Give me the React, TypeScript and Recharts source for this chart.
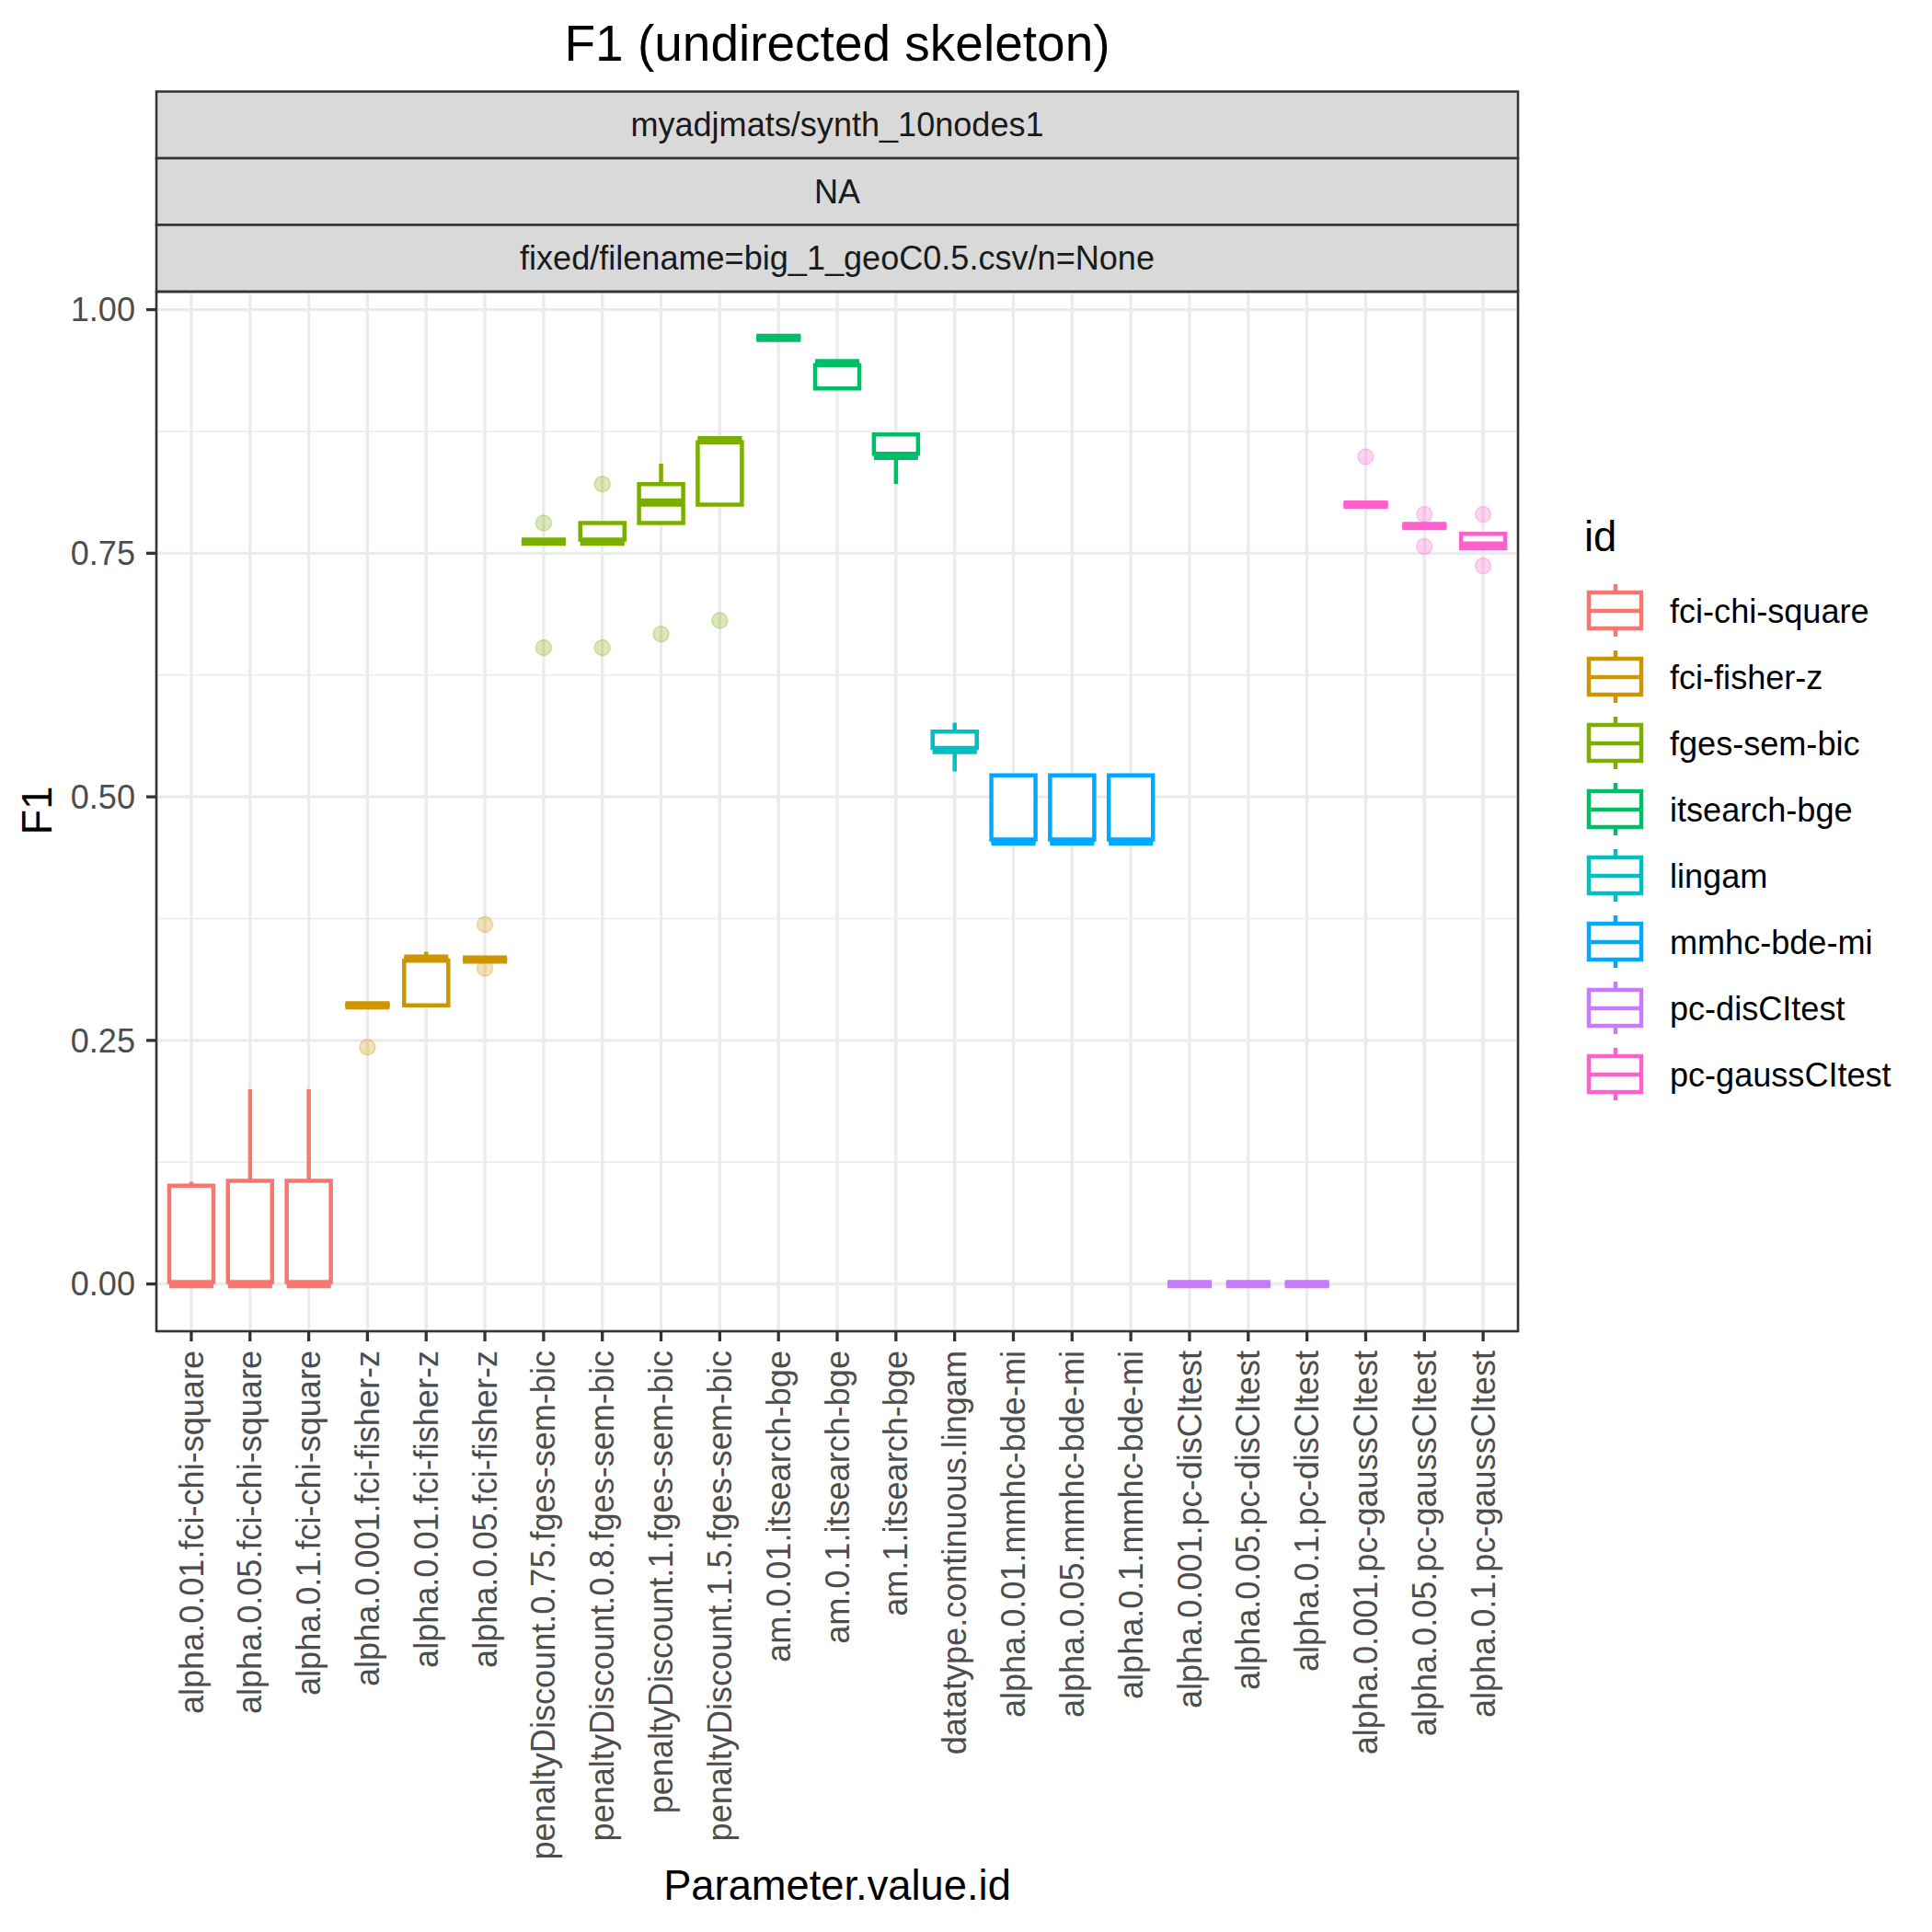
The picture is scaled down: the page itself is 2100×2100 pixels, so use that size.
import { ComposedChart, Bar, Line, XAxis, YAxis, CartesianGrid } from 'recharts';

const FONT = '"Liberation Sans", Arial, Helvetica, sans-serif';

// one box per parameter setting
const categories = [
    'alpha.0.01.fci-chi-square',
    'alpha.0.05.fci-chi-square',
    'alpha.0.1.fci-chi-square',
    'alpha.0.001.fci-fisher-z',
    'alpha.0.01.fci-fisher-z',
    'alpha.0.05.fci-fisher-z',
    'penaltyDiscount.0.75.fges-sem-bic',
    'penaltyDiscount.0.8.fges-sem-bic',
    'penaltyDiscount.1.fges-sem-bic',
    'penaltyDiscount.1.5.fges-sem-bic',
    'am.0.01.itsearch-bge',
    'am.0.1.itsearch-bge',
    'am.1.itsearch-bge',
    'datatype.continuous.lingam',
    'alpha.0.01.mmhc-bde-mi',
    'alpha.0.05.mmhc-bde-mi',
    'alpha.0.1.mmhc-bde-mi',
    'alpha.0.001.pc-disCItest',
    'alpha.0.05.pc-disCItest',
    'alpha.0.1.pc-disCItest',
    'alpha.0.001.pc-gaussCItest',
    'alpha.0.05.pc-gaussCItest',
    'alpha.0.1.pc-gaussCItest',
];

const categoryIds = [
    'fci-chi-square', 'fci-chi-square', 'fci-chi-square',
    'fci-fisher-z', 'fci-fisher-z', 'fci-fisher-z',
    'fges-sem-bic', 'fges-sem-bic', 'fges-sem-bic', 'fges-sem-bic',
    'itsearch-bge', 'itsearch-bge', 'itsearch-bge',
    'lingam',
    'mmhc-bde-mi', 'mmhc-bde-mi', 'mmhc-bde-mi',
    'pc-disCItest', 'pc-disCItest', 'pc-disCItest',
    'pc-gaussCItest', 'pc-gaussCItest', 'pc-gaussCItest',
];

const whiskerLow = [0, 0, 0, 0.286, 0.286, 0.333, 0.762, 0.762, 0.781, 0.8, 0.971, 0.919, 0.821, 0.526, 0.454, 0.454, 0.454, 0, 0, 0, 0.8, 0.778, 0.755];
const lowerQuartile = [0, 0, 0, 0.286, 0.286, 0.333, 0.762, 0.762, 0.781, 0.8, 0.971, 0.919, 0.85, 0.548, 0.454, 0.454, 0.454, 0, 0, 0, 0.8, 0.778, 0.755];
const medianValue = [0, 0, 0, 0.286, 0.334, 0.333, 0.762, 0.762, 0.802, 0.866, 0.971, 0.945, 0.85, 0.548, 0.454, 0.454, 0.454, 0, 0, 0, 0.8, 0.778, 0.758];
const upperQuartile = [0.101, 0.106, 0.106, 0.286, 0.334, 0.333, 0.762, 0.781, 0.821, 0.866, 0.971, 0.945, 0.872, 0.567, 0.522, 0.522, 0.522, 0, 0, 0, 0.8, 0.778, 0.77];
const whiskerHigh = [0.105, 0.2, 0.2, 0.286, 0.341, 0.333, 0.762, 0.781, 0.842, 0.866, 0.971, 0.945, 0.872, 0.576, 0.522, 0.522, 0.522, 0, 0, 0, 0.8, 0.778, 0.77];

const outlierHigh = [null, null, null, null, null, 0.369, 0.781, 0.821, null, null, null, null, null, null, null, null, null, null, null, null, 0.849, 0.79, 0.79];
const outlierLow = [null, null, null, 0.243, null, 0.324, 0.653, 0.653, 0.667, 0.681, null, null, null, null, null, null, null, null, null, null, null, 0.757, 0.737];

const legendIds = ['fci-chi-square', 'fci-fisher-z', 'fges-sem-bic', 'itsearch-bge', 'lingam', 'mmhc-bde-mi', 'pc-disCItest', 'pc-gaussCItest'];
const legendColors = ['#F8766D', '#CD9600', '#7CAE00', '#00BE67', '#00BFC4', '#00A9FF', '#C77CFF', '#FF61CC'];

const majorTicks = [0, 0.25, 0.5, 0.75, 1];
const minorTicks = [0.125, 0.375, 0.625, 0.875];

const stripLabels = ['myadjmats/synth_10nodes1', 'NA', 'fixed/filename=big_1_geoC0.5.csv/n=None'];

const colorOf = (id: string) => legendColors[legendIds.indexOf(id)];

const LINE = 4.5;
const MEDIAN = 9;
const SMALL_FONT = 36.1;
const MID_FONT = 45.3;

// panel geometry (matches chart margins below)
const PANEL_LEFT = 170;
const PANEL_TOP = 317;
const PANEL_RIGHT = 1650;
const PANEL_BOTTOM = 1447;
const STRIP_H = 72.5;

const rows = categories.map((name, i) => ({
    name,
    id: categoryIds[i],
    base: whiskerLow[i],
    lowWhisker: Math.max(0, lowerQuartile[i] - whiskerLow[i]),
    lowBox: Math.max(0, medianValue[i] - lowerQuartile[i]),
    highBox: Math.max(0, upperQuartile[i] - medianValue[i]),
    highWhisker: Math.max(0, whiskerHigh[i] - upperQuartile[i]),
    outHigh: outlierHigh[i],
    outLow: outlierLow[i],
}));

const HiddenShape = () => <g />;

const WhiskerShape = (props: any) => {
    const { x, y, width, height, payload } = props;
    if (!height) return <g />;
    const cx = x + width / 2;
    return <line x1={cx} x2={cx} y1={y} y2={y + height} stroke={colorOf(payload.id)} strokeWidth={LINE} />;
};

// q1 -> median: white fill, sides and bottom edge
const LowerBoxShape = (props: any) => {
    const { x, y, width, height, payload } = props;
    const c = colorOf(payload.id);
    return (
        <g>
            <rect x={x} y={y} width={width} height={Math.max(0, height)} fill="#FFFFFF" />
            <path d={`M${x},${y} V${y + height} H${x + width} V${y}`} fill="none" stroke={c} strokeWidth={LINE} />
        </g>
    );
};

// median -> q3: white fill, sides, top edge, and the thick median at its bottom
const UpperBoxShape = (props: any) => {
    const { x, y, width, height, payload } = props;
    const c = colorOf(payload.id);
    return (
        <g>
            <rect x={x} y={y} width={width} height={Math.max(0, height)} fill="#FFFFFF" />
            <path d={`M${x},${y + height} V${y} H${x + width} V${y + height}`} fill="none" stroke={c} strokeWidth={LINE} />
            <line x1={x} x2={x + width} y1={y + height} y2={y + height} stroke={c} strokeWidth={MEDIAN} />
        </g>
    );
};

const OutlierDot = (props: any) => {
    const { cx, cy, value, payload, index } = props;
    if (value == null || cy == null || Number.isNaN(cy)) return <g key={`o-${index}`} />;
    const c = colorOf(payload.id);
    return (
        <circle key={`o-${index}`} cx={cx} cy={cy} r={8.5} fill={c} fillOpacity={0.28} stroke={c} strokeOpacity={0.3} strokeWidth={1.5} />
    );
};

const XTick = (props: any) => {
    const { x, y, payload } = props;
    return (
        <text
            x={x}
            y={y}
            transform={`rotate(-90 ${x} ${y})`}
            textAnchor="end"
            dy="0.35em"
            fontSize={SMALL_FONT}
            fill="#4D4D4D"
            fontFamily={FONT}
        >
            {payload.value}
        </text>
    );
};

const LegendKey = ({ color, cy }: { color: string; cy: number }) => (
    <g>
        <line x1={1756} x2={1756} y1={cy - 29} y2={cy + 28} stroke={color} strokeWidth={LINE} />
        <rect x={1727} y={cy - 20} width={57} height={39} fill="#FFFFFF" stroke={color} strokeWidth={LINE} />
        <line x1={1727} x2={1784} y1={cy} y2={cy} stroke={color} strokeWidth={LINE} />
    </g>
);

export default function App() {
    return (
        <div style={{ position: 'absolute', left: 0, top: 0, width: 2100, height: 2100, background: '#FFFFFF', fontFamily: FONT }}>
            <ComposedChart
                width={2100}
                height={2100}
                data={rows}
                margin={{ top: PANEL_TOP, right: 2100 - PANEL_RIGHT, bottom: 2100 - PANEL_BOTTOM - 600, left: 0 }}
                barCategoryGap="12.5%"
            >
                <CartesianGrid stroke="#EBEBEB" strokeWidth={1.65} vertical={false} horizontalValues={minorTicks} />
                <CartesianGrid stroke="#EBEBEB" strokeWidth={3.3} />
                <XAxis
                    dataKey="name"
                    type="category"
                    interval={0}
                    height={600}
                    padding={{ left: 6, right: 6 }}
                    axisLine={false}
                    tickSize={11}
                    tickMargin={10}
                    tickLine={{ stroke: '#333333', strokeWidth: 3.3 }}
                    tick={<XTick />}
                />
                <YAxis
                    type="number"
                    domain={[-0.0485, 1.0185]}
                    ticks={majorTicks}
                    allowDataOverflow
                    width={PANEL_LEFT}
                    axisLine={false}
                    tickSize={11}
                    tickMargin={12}
                    tickLine={{ stroke: '#333333', strokeWidth: 3.3 }}
                    tickFormatter={(v: number) => v.toFixed(2)}
                    tick={{ fontSize: SMALL_FONT, fill: '#4D4D4D', fontFamily: FONT }}
                />
                <Bar dataKey="base" stackId="box" shape={HiddenShape} isAnimationActive={false} />
                <Bar dataKey="lowWhisker" stackId="box" shape={WhiskerShape} isAnimationActive={false} />
                <Bar dataKey="lowBox" stackId="box" shape={LowerBoxShape} isAnimationActive={false} />
                <Bar dataKey="highBox" stackId="box" shape={UpperBoxShape} isAnimationActive={false} />
                <Bar dataKey="highWhisker" stackId="box" shape={WhiskerShape} isAnimationActive={false} />
                <Line dataKey="outHigh" stroke="none" dot={OutlierDot} activeDot={false} isAnimationActive={false} />
                <Line dataKey="outLow" stroke="none" dot={OutlierDot} activeDot={false} isAnimationActive={false} />
            </ComposedChart>

            <svg width={2100} height={2100} style={{ position: 'absolute', left: 0, top: 0, pointerEvents: 'none' }} fontFamily={FONT}>
                <text x={910} y={47} fontSize={55} textAnchor="middle" dominantBaseline="central" fill="#000000">
                    F1 (undirected skeleton)
                </text>
                {stripLabels.map((label, i) => (
                    <g key={label}>
                        <rect
                            x={PANEL_LEFT}
                            y={PANEL_TOP - STRIP_H * (3 - i)}
                            width={PANEL_RIGHT - PANEL_LEFT}
                            height={STRIP_H}
                            fill="#D9D9D9"
                            stroke="#333333"
                            strokeWidth={2.5}
                        />
                        <text
                            x={(PANEL_LEFT + PANEL_RIGHT) / 2}
                            y={PANEL_TOP - STRIP_H * (3 - i) + STRIP_H / 2}
                            fontSize={SMALL_FONT}
                            textAnchor="middle"
                            dominantBaseline="central"
                            fill="#1A1A1A"
                        >
                            {label}
                        </text>
                    </g>
                ))}
                <rect
                    x={PANEL_LEFT}
                    y={PANEL_TOP}
                    width={PANEL_RIGHT - PANEL_LEFT}
                    height={PANEL_BOTTOM - PANEL_TOP}
                    fill="none"
                    stroke="#333333"
                    strokeWidth={2.5}
                />
                <text x={40} y={881} fontSize={MID_FONT} textAnchor="middle" dominantBaseline="central" transform="rotate(-90 40 881)" fill="#000000">
                    F1
                </text>
                <text x={910} y={2049} fontSize={MID_FONT} textAnchor="middle" dominantBaseline="central" fill="#000000">
                    Parameter.value.id
                </text>
                <text x={1722} y={599} fontSize={MID_FONT} fill="#000000">
                    id
                </text>
                {legendIds.map((id, i) => (
                    <g key={id}>
                        <LegendKey color={legendColors[i]} cy={664 + 72 * i} />
                        <text x={1815} y={664 + 72 * i} fontSize={SMALL_FONT} dominantBaseline="central" fill="#000000">
                            {id}
                        </text>
                    </g>
                ))}
            </svg>
        </div>
    );
}
